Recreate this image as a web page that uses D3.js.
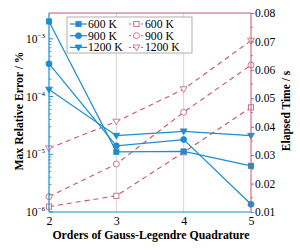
<!DOCTYPE html>
<html>
<head>
<meta charset="utf-8">
<script src="https://cdn.jsdelivr.net/npm/d3@7"></script>
<style>
  svg text, svg tspan { font-family: "Liberation Serif", serif !important; }
</style>
</head>
<body style="margin:0;background:#fff">
<script>
// data
var orders = [2, 3, 4, 5];
var temps = ['600 K', '900 K', '1200 K'];
var errors600 = [2.0e-3, 1.1e-5, 1.12e-5, 6.3e-6];
var errors900 = [3.7e-4, 1.4e-5, 1.8e-5, 1.36e-6];
var errors1200 = [1.32e-4, 2.1e-5, 2.5e-5, 2.1e-5];
var time600 = [0.0119, 0.0157, 0.031, 0.0468];
var time900 = [0.0154, 0.0269, 0.0451, 0.0617];
var time1200 = [0.0324, 0.0418, 0.0532, 0.0703];
var errTicks = [1e-6, 1e-5, 1e-4, 1e-3];
var errExp = ['−6', '−5', '−4', '−3'];
var timeTicks = [0.01, 0.02, 0.03, 0.04, 0.05, 0.06, 0.07, 0.08];

var blue = '#1b8dd0';
var red = '#c95570';
var markers = ['square', 'circle', 'triangle'];

var margin = {top: 13, right: 49, bottom: 38, left: 49};
var width = 300 - margin.left - margin.right;
var height = 250 - margin.top - margin.bottom;

var x = d3.scaleLinear().domain([2, 5]).range([0, width]);
var yL = d3.scaleLog().domain([1e-6, 2.8e-3]).range([height, 0]);
var yR = d3.scaleLinear().domain([0.01, 0.08]).range([height, 0]);

function font(sel) {
  sel.attr('font-family', 'Liberation Serif, serif')
    .style('font-family', '"Liberation Serif", serif');
}

var svg = d3.select('body').append('svg')
  .attr('width', 300)
  .attr('height', 250);

var g = svg.append('g')
  .attr('transform', 'translate(' + margin.left + ',' + margin.top + ')');

// grid lines
g.selectAll('.grid')
  .data([3, 4])
  .enter().append('line')
  .attr('x1', function(d) { return x(d); })
  .attr('x2', function(d) { return x(d); })
  .attr('y1', 0).attr('y2', height)
  .attr('stroke', '#d4d4d4').attr('stroke-width', 1);

function drawMarker(sel, type, color, filled) {
  var fill = filled ? color : '#fff';
  if (type === 'square') {
    sel.append('rect').attr('x', -2.6).attr('y', -2.6).attr('width', 5.2).attr('height', 5.2)
      .attr('fill', fill).attr('stroke', color).attr('stroke-width', 0.8);
  } else if (type === 'circle') {
    sel.append('circle').attr('r', 3)
      .attr('fill', fill).attr('stroke', color).attr('stroke-width', 0.8);
  } else {
    sel.append('path').attr('d', 'M-3.4,-2.4L3.4,-2.4L0,3.4Z')
      .attr('fill', fill).attr('stroke', color).attr('stroke-width', 0.8);
  }
}

var plot = g.append('g');

// red dashed series (elapsed time)
var timeSeries = [time600, time900, time1200];
var lineR = d3.line().x(function(d, i) { return x(orders[i]); }).y(function(d) { return yR(d); });
timeSeries.forEach(function(s, k) {
  plot.append('path').datum(s)
    .attr('d', lineR)
    .attr('fill', 'none').attr('stroke', red).attr('stroke-width', 1.1)
    .attr('stroke-dasharray', '5,4');
  s.forEach(function(v, i) {
    var m = plot.append('g').attr('transform', 'translate(' + x(orders[i]) + ',' + yR(v) + ')');
    drawMarker(m, markers[k], red, false);
  });
});

// blue solid series (error)
var errSeries = [errors600, errors900, errors1200];
var lineL = d3.line().x(function(d, i) { return x(orders[i]); }).y(function(d) { return yL(d); });
errSeries.forEach(function(s, k) {
  plot.append('path').datum(s)
    .attr('d', lineL)
    .attr('fill', 'none').attr('stroke', blue).attr('stroke-width', 1.2);
  s.forEach(function(v, i) {
    var m = plot.append('g').attr('transform', 'translate(' + x(orders[i]) + ',' + yL(v) + ')');
    drawMarker(m, markers[k], blue, true);
  });
});

// axes frame
g.append('line').attr('x1', 0).attr('x2', width).attr('y1', 0).attr('y2', 0)
  .attr('stroke', red).attr('stroke-width', 1);
g.append('line').attr('x1', width).attr('x2', width).attr('y1', 0).attr('y2', height)
  .attr('stroke', red).attr('stroke-width', 1);
g.append('line').attr('x1', 0).attr('x2', 0).attr('y1', 0).attr('y2', height)
  .attr('stroke', blue).attr('stroke-width', 1.2);
g.append('line').attr('x1', 0).attr('x2', width).attr('y1', height).attr('y2', height)
  .attr('stroke', blue).attr('stroke-width', 1.2);

// bottom axis
var xAxis = g.append('g')
  .attr('transform', 'translate(0,' + height + ')')
  .call(d3.axisBottom(x).tickValues(orders).tickFormat(d3.format('d')).tickSize(0).tickPadding(4));
xAxis.select('.domain').remove();
xAxis.attr('font-family', null);
xAxis.selectAll('text').attr('font-size', 12).attr('fill', '#000').call(font);

// left log axis, minor ticks inward
var minor = [];
for (var e = -6; e <= -3; e++) {
  for (var k = 2; k <= 9; k++) {
    var v = k * Math.pow(10, e);
    if (v < 2.8e-3) minor.push(v);
  }
}
g.selectAll('.minL').data(minor).enter().append('line')
  .attr('x1', 0).attr('x2', 2.5)
  .attr('y1', function(d) { return yL(d); }).attr('y2', function(d) { return yL(d); })
  .attr('stroke', blue).attr('stroke-width', 0.8);
g.selectAll('.majL').data(errTicks).enter().append('line')
  .attr('x1', 0).attr('x2', 4)
  .attr('y1', function(d) { return yL(d); }).attr('y2', function(d) { return yL(d); })
  .attr('stroke', blue).attr('stroke-width', 1);
var lt = g.selectAll('.labL').data(errTicks).enter().append('text')
  .attr('x', -4).attr('y', function(d) { return yL(d) + 4; })
  .attr('text-anchor', 'end').attr('font-size', 11.5).attr('fill', '#000')
  .call(font);
lt.append('tspan').text('10');
lt.append('tspan').attr('dy', -5).attr('font-size', 7).text(function(d, i) { return errExp[i]; });

// right linear axis
var yAxisR = g.append('g')
  .attr('transform', 'translate(' + width + ',0)')
  .call(d3.axisRight(yR).tickValues(timeTicks).tickFormat(d3.format('.2f')).tickSize(3).tickPadding(1));
yAxisR.select('.domain').remove();
yAxisR.attr('font-family', null);
yAxisR.selectAll('line').attr('stroke', red);
yAxisR.selectAll('text').attr('font-size', 11.5).attr('fill', '#000').call(font);
var minorR = timeTicks.slice(0, -1).map(function(d) { return d + 0.005; });
g.selectAll('.minR').data(minorR).enter().append('line')
  .attr('x1', width).attr('x2', width + 2)
  .attr('y1', function(d) { return yR(d); }).attr('y2', function(d) { return yR(d); })
  .attr('stroke', red).attr('stroke-width', 0.8);

// axis titles
svg.append('text')
  .attr('transform', 'translate(23,111) rotate(-90)')
  .attr('text-anchor', 'middle').attr('font-size', 11.7).attr('font-weight', 'bold')
  .call(font)
  .text('Max Relative Error / %');
svg.append('text')
  .attr('transform', 'translate(290,111) rotate(-90)')
  .attr('text-anchor', 'middle').attr('font-size', 11.5).attr('font-weight', 'bold')
  .call(font)
  .text('Elapsed Time / s');
svg.append('text')
  .attr('x', 151).attr('y', 239)
  .attr('text-anchor', 'middle').attr('font-size', 11.8).attr('font-weight', 'bold')
  .call(font)
  .text('Orders of Gauss-Legendre Quadrature');

// legend
var leg = svg.append('g').attr('transform', 'translate(67,17)');
leg.append('rect').attr('width', 125).attr('height', 36)
  .attr('fill', '#fff').attr('stroke', '#999').attr('stroke-width', 0.8);
temps.forEach(function(t, i) {
  var yy = 7 + i * 11.7;
  leg.append('line').attr('x1', 3).attr('x2', 20).attr('y1', yy).attr('y2', yy)
    .attr('stroke', blue).attr('stroke-width', 1.2);
  drawMarker(leg.append('g').attr('transform', 'translate(11.5,' + yy + ')'), markers[i], blue, true);
  leg.append('text').attr('x', 21).attr('y', yy + 3.8).attr('font-size', 11.7).call(font).text(t);
  leg.append('line').attr('x1', 62).attr('x2', 77).attr('y1', yy).attr('y2', yy)
    .attr('stroke', red).attr('stroke-width', 1).attr('stroke-dasharray', '2,2');
  drawMarker(leg.append('g').attr('transform', 'translate(69.5,' + yy + ')'), markers[i], red, false);
  leg.append('text').attr('x', 78).attr('y', yy + 3.8).attr('font-size', 11.7).call(font).text(t);
});
</script>
</body>
</html>
